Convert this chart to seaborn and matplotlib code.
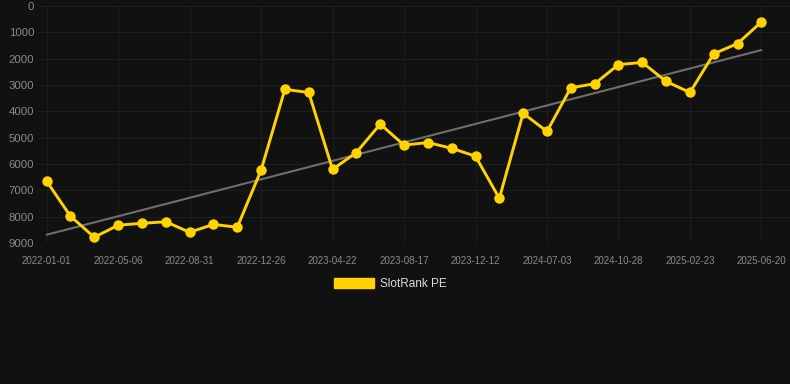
import numpy as np
import pandas as pd
import seaborn as sns
import matplotlib.pyplot as plt
from matplotlib.patches import Patch

# Data (rank, lower is better -> inverted axis)
ranks = [6650, 7980, 8780, 8320, 8250, 8190, 8590, 8290, 8400, 6230,
         3160, 3280, 6200, 5560, 4480, 5280, 5180, 5400, 5700, 7300,
         4070, 4760, 3100, 2950, 2220, 2140, 2860, 3280, 1810, 1420, 600]
tick_labels = ["2022-01-01", "2022-05-06", "2022-08-31", "2022-12-26",
               "2023-04-22", "2023-08-17", "2023-12-12", "2024-07-03",
               "2024-10-28", "2025-02-23", "2025-06-20"]
y_ticks = [0, 1000, 2000, 3000, 4000, 5000, 6000, 7000, 8000, 9000]

BG = "#111111"
YELLOW = "#FFD200"
GRID = "#1d1d1d"

df = pd.DataFrame({"idx": np.arange(len(ranks)), "rank": ranks})

sns.set_theme(style="dark", rc={
    "figure.facecolor": BG,
    "axes.facecolor": BG,
    "axes.edgecolor": BG,
    "grid.color": GRID,
    "axes.grid": True,
    "grid.linewidth": 0.8,
})
plt.rcParams["font.family"] = ["Liberation Sans", "DejaVu Sans"]

fig = plt.figure(figsize=(7.9, 3.84), dpi=100)
ax = fig.add_axes([0.047, 0.367, 0.953, 0.617])

# trend line
sns.regplot(data=df, x="idx", y="rank", ax=ax, scatter=False, ci=None,
            line_kws={"color": "#6e6e6e", "linewidth": 1.5})

sns.lineplot(data=df, x="idx", y="rank", ax=ax, color=YELLOW,
             linewidth=2.1, marker="o", markersize=7.5,
             markeredgecolor=YELLOW, markeredgewidth=0)

ax.set_xlim(-0.4, 31.2)
ax.set_ylim(9000, 0)
ax.set_xticks(np.arange(0, len(ranks), 3))
ax.set_xticklabels(tick_labels)
ax.set_yticks(y_ticks)
ax.set_yticklabels([str(v) for v in y_ticks])
ax.tick_params(axis="x", colors="#8a8a8a", labelsize=7, length=0, pad=9)
ax.tick_params(axis="y", colors="#8a8a8a", labelsize=8.2, length=0, pad=2)
ax.set_xlabel("")
ax.set_ylabel("")
ax.grid(True, color=GRID, linewidth=0.8)
for s in ax.spines.values():
    s.set_visible(False)

handle = Patch(facecolor=YELLOW, edgecolor=YELLOW)
fig.legend([handle], ["SlotRank PE"], loc="center", bbox_to_anchor=(0.494, 0.26),
           frameon=False, fontsize=8.5, labelcolor="#dddddd",
           handlelength=3.4, handleheight=0.95, handletextpad=0.5)

fig.savefig("out.png", dpi=100, facecolor=BG)
